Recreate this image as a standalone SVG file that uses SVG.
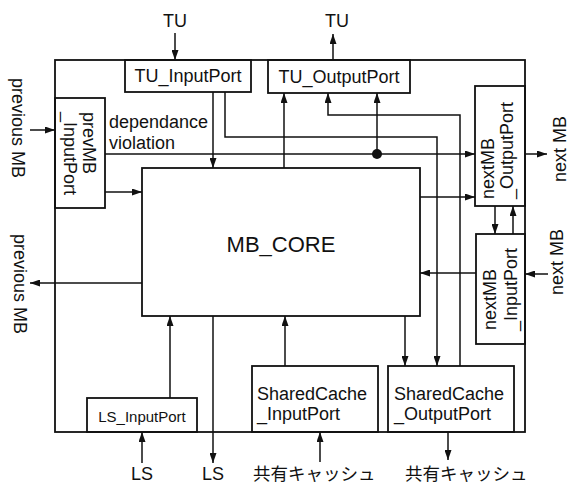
<svg xmlns="http://www.w3.org/2000/svg" width="570" height="485" viewBox="0 0 570 485">
<style>
.box{fill:none;stroke:#111;stroke-width:1.8}
.ln{fill:none;stroke:#111;stroke-width:1.5}
.t{font-family:"Liberation Sans",Arial,sans-serif;font-size:18px;fill:#111}
.s{font-size:15px}
.big{font-size:22px}
.jp{font-family:"Noto Sans CJK JP","Liberation Sans",sans-serif;font-size:17.5px;fill:#111}
</style>
<defs>
<marker id="ah" viewBox="0 0 10 7" refX="10" refY="3.5" markerWidth="10" markerHeight="7" markerUnits="userSpaceOnUse" orient="auto">
<path d="M0,0 L10,3.5 L0,7 z" fill="#111"/>
</marker>
</defs>
<rect width="570" height="485" fill="#fff"/>
<g id="outer"><rect class="box" x="55" y="60" width="470" height="372"/></g>
<g id="tu_input"><rect class="box" x="125" y="60" width="126" height="32"/><text class="t" x="188" y="82" text-anchor="middle">TU_InputPort</text></g>
<g id="tu_output"><rect class="box" x="268" y="60" width="142" height="33"/><text class="t" x="339" y="83" text-anchor="middle">TU_OutputPort</text></g>
<g id="prevmb_input"><rect class="box" x="55" y="98" width="50" height="110"/>
<text class="t" transform="translate(83,112) rotate(90)">prevMB</text>
<text class="t" transform="translate(64,112) rotate(90)">_InputPort</text></g>
<g id="mb_core"><rect class="box" x="142" y="168" width="278" height="148"/><text class="t big" x="281" y="252" text-anchor="middle">MB_CORE</text></g>
<g id="nextmb_output"><rect class="box" x="475" y="86" width="50" height="120"/>
<text class="t" transform="translate(494,199) rotate(-90)">nextMB</text>
<text class="t" transform="translate(513,199) rotate(-90)">_OutputPort</text></g>
<g id="nextmb_input"><rect class="box" x="476" y="234" width="49" height="110"/>
<text class="t" transform="translate(496,330) rotate(-90)">nextMB</text>
<text class="t" transform="translate(517,331) rotate(-90)">_InputPort</text></g>
<g id="ls_input"><rect class="box" x="87" y="398" width="110" height="34"/><text class="t s" x="142" y="422" text-anchor="middle">LS_InputPort</text></g>
<g id="sc_input"><rect class="box" x="252" y="366" width="126" height="66"/><text class="t" x="257" y="400">SharedCache</text><text class="t" x="257" y="420">_InputPort</text></g>
<g id="sc_output"><rect class="box" x="388" y="366" width="126" height="66"/><text class="t" x="394" y="400">SharedCache</text><text class="t" x="394" y="420">_OutputPort</text></g>
<g id="labels">
<text class="t" x="175" y="27" text-anchor="middle">TU</text>
<text class="t" x="337" y="27" text-anchor="middle">TU</text>
<text class="t" transform="translate(12,78) rotate(90)">previous MB</text>
<text class="t" transform="translate(14,234) rotate(90)">previous MB</text>
<text class="t" transform="translate(566,182) rotate(-90)">next MB</text>
<text class="t" transform="translate(563,295) rotate(-90)">next MB</text>
<text class="t" x="109" y="128">dependance</text>
<text class="t" x="109" y="149">violation</text>
<text class="t" x="142" y="480" text-anchor="middle">LS</text>
<text class="t" x="213" y="480" text-anchor="middle">LS</text>
<text class="jp" x="253" y="480">共有キャッシュ</text>
<text class="jp" x="405" y="480">共有キャッシュ</text>
</g>
<g id="connectors">
<line class="ln" x1="175" y1="33" x2="175" y2="60" marker-end="url(#ah)"/>
<line class="ln" x1="333" y1="60" x2="333" y2="34" marker-end="url(#ah)"/>
<line class="ln" x1="30" y1="130" x2="55" y2="130" marker-end="url(#ah)"/>
<line class="ln" x1="105" y1="192" x2="142" y2="192" marker-end="url(#ah)"/>
<line class="ln" x1="105" y1="154" x2="475" y2="154" marker-end="url(#ah)"/>
<circle cx="377" cy="154" r="5" fill="#111"/>
<line class="ln" x1="377" y1="154" x2="377" y2="93" marker-end="url(#ah)"/>
<line class="ln" x1="213" y1="92" x2="213" y2="168" marker-end="url(#ah)"/>
<polyline class="ln" points="225,92 225,137 437,137 437,366" marker-end="url(#ah)"/>
<polyline class="ln" points="460,366 460,115 328,115 328,93" marker-end="url(#ah)"/>
<line class="ln" x1="284" y1="168" x2="284" y2="93" marker-end="url(#ah)"/>
<line class="ln" x1="420" y1="197" x2="475" y2="197" marker-end="url(#ah)"/>
<line class="ln" x1="525" y1="154" x2="547" y2="154" marker-end="url(#ah)"/>
<line class="ln" x1="495" y1="206" x2="495" y2="234" marker-end="url(#ah)"/>
<line class="ln" x1="513" y1="234" x2="513" y2="206" marker-end="url(#ah)"/>
<line class="ln" x1="548" y1="274" x2="525" y2="274" marker-end="url(#ah)"/>
<line class="ln" x1="476" y1="273" x2="420" y2="273" marker-end="url(#ah)"/>
<line class="ln" x1="142" y1="283" x2="30" y2="283" marker-end="url(#ah)"/>
<line class="ln" x1="170" y1="398" x2="170" y2="316" marker-end="url(#ah)"/>
<line class="ln" x1="213" y1="316" x2="213" y2="463" marker-end="url(#ah)"/>
<line class="ln" x1="142" y1="463" x2="142" y2="432" marker-end="url(#ah)"/>
<line class="ln" x1="285" y1="366" x2="285" y2="316" marker-end="url(#ah)"/>
<line class="ln" x1="320" y1="462" x2="320" y2="432" marker-end="url(#ah)"/>
<line class="ln" x1="405" y1="316" x2="405" y2="366" marker-end="url(#ah)"/>
<line class="ln" x1="448" y1="432" x2="448" y2="460" marker-end="url(#ah)"/>
</g>
</svg>
